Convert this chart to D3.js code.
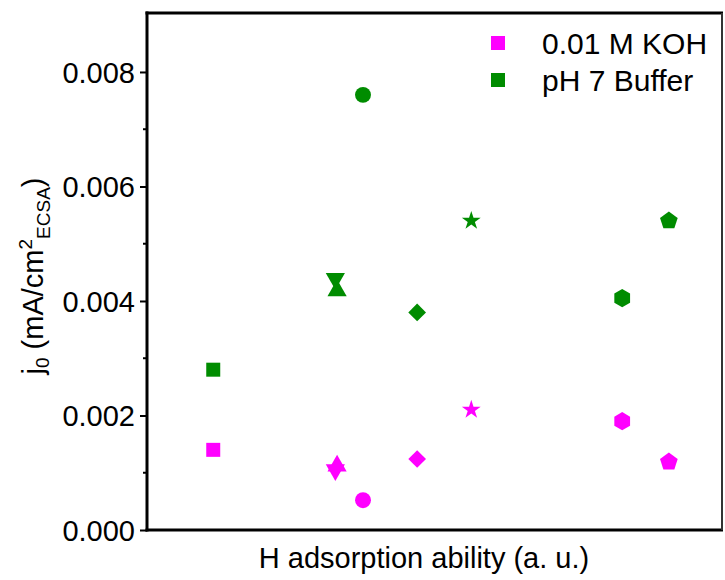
<!DOCTYPE html>
<html>
<head>
<meta charset="utf-8">
<script src="https://cdn.jsdelivr.net/npm/d3@7"></script>
<style>
  body { margin: 0; background: #fff; }
  text { font-family: "Liberation Sans", Arial, sans-serif; fill: #000; }
</style>
</head>
<body>
<script>
// marker shapes, one per catalyst, in order along the x axis
var shapes = ["square", "triangleUp", "triangleDown", "circle", "diamond", "star", "hexagon", "pentagon"];
// H adsorption ability (a. u.)
var xVals = [1.15, 3.30, 3.27, 3.75, 4.69, 5.63, 8.25, 9.06];
var kohVals = [0.0014, 0.00112, 0.00105, 0.00052, 0.00124, 0.0021, 0.0019, 0.00119];
var bufVals = [0.0028, 0.00418, 0.00439, 0.0076, 0.0038, 0.0054, 0.00405, 0.0054];
var seriesNames = ["0.01 M KOH", "pH 7 Buffer"];
var seriesColors = ["#ff00ff", "#008c00"];
var yTicks = [0, 0.002, 0.004, 0.006, 0.008];
var yMinor = [0.001, 0.003, 0.005, 0.007];

var w = 725,
    h = 580;

var margin = { top: 13, right: 2, bottom: 50, left: 147 },
    width = w - margin.left - margin.right,
    height = h - margin.top - margin.bottom;

var svg = d3.select("body")
    .append("svg")
    .attr("width", w)
    .attr("height", h)
    .append("g")
    .attr("transform", "translate(" + margin.left + "," + margin.top + ")");

var x = d3.scaleLinear().domain([0, 10]).range([0, width]);
var y = d3.scaleLinear().domain([0, 0.00903]).range([height, 0]);

// custom polygon symbols
function polygon(n, k) {
    return {
        draw: function (ctx, size) {
            var r = Math.sqrt(size / k);
            for (var i = 0; i < n; i++) {
                var a = -Math.PI / 2 + i * 2 * Math.PI / n;
                if (i == 0) ctx.moveTo(r * Math.cos(a), r * Math.sin(a));
                else ctx.lineTo(r * Math.cos(a), r * Math.sin(a));
            }
            ctx.closePath();
        }
    };
}
var hexagon = polygon(6, 3 * Math.sqrt(3) / 2);
var pentagon = polygon(5, 2.5 * Math.sin(2 * Math.PI / 5));

var symbolTypes = {
    square: [d3.symbolSquare, 196, 0],
    triangleUp: [d3.symbolTriangle, 160, 0],
    triangleDown: [d3.symbolTriangle, 160, 180],
    circle: [d3.symbolCircle, 200, 0],
    diamond: [d3.symbolDiamond2, 200, 0],
    star: [d3.symbolStar, 110, 0],
    hexagon: [hexagon, 215, 0],
    pentagon: [pentagon, 205, 0]
};

// y axis
var yAxis = svg.append("g")
    .call(d3.axisLeft(y).tickValues(yTicks).tickFormat(d3.format(".3f")).tickSize(7).tickPadding(5));
yAxis.select(".domain").remove();
yAxis.selectAll("line").attr("stroke", "#000").attr("stroke-width", 2);
yAxis.selectAll("text").style("font-size", "29px").attr("dy", "0.35em");

svg.append("g")
    .selectAll("line")
    .data(yMinor)
    .enter()
    .append("line")
    .attr("x1", -4)
    .attr("x2", 0)
    .attr("y1", function (d) { return y(d); })
    .attr("y2", function (d) { return y(d); })
    .attr("stroke", "#000")
    .attr("stroke-width", 2);

// frame
svg.append("line").attr("x1", 0).attr("x2", 0).attr("y1", -1.5).attr("y2", height + 1.5)
    .attr("stroke", "#000").attr("stroke-width", 3);
svg.append("line").attr("x1", -1.5).attr("x2", width).attr("y1", height).attr("y2", height)
    .attr("stroke", "#000").attr("stroke-width", 3);
svg.append("line").attr("x1", -1.5).attr("x2", width).attr("y1", 0).attr("y2", 0)
    .attr("stroke", "#000").attr("stroke-width", 3);
svg.append("line").attr("x1", width - 1).attr("x2", width - 1).attr("y1", 0).attr("y2", height)
    .attr("stroke", "#333").attr("stroke-width", 2);

// points
var series = [kohVals, bufVals];
series.forEach(function (vals, si) {
    svg.append("g")
        .selectAll("path")
        .data(vals)
        .enter()
        .append("path")
        .attr("d", function (d, i) {
            var s = symbolTypes[shapes[i]];
            return d3.symbol().type(s[0]).size(s[1])();
        })
        .attr("transform", function (d, i) {
            var s = symbolTypes[shapes[i]];
            return "translate(" + x(xVals[i]) + "," + y(d) + ") rotate(" + s[2] + ")";
        })
        .attr("fill", seriesColors[si]);
});

// legend
var legend = svg.append("g")
    .selectAll("g")
    .data(seriesNames)
    .enter()
    .append("g")
    .attr("transform", function (d, i) { return "translate(" + (351) + "," + (30 + i * 37) + ")"; });
legend.append("rect")
    .attr("x", -7).attr("y", -7).attr("width", 14).attr("height", 14)
    .attr("fill", function (d, i) { return seriesColors[i]; });
legend.append("text")
    .attr("x", 44)
    .attr("dy", "0.35em")
    .style("font-size", "30px")
    .text(function (d) { return d; });

// axis titles
svg.append("text")
    .attr("x", width / 2 - 11)
    .attr("y", height + 38)
    .attr("text-anchor", "middle")
    .style("font-size", "29px")
    .text("H adsorption ability (a. u.)");

var yt = svg.append("text")
    .attr("transform", "translate(" + (-104) + "," + (263) + ") rotate(-90)")
    .attr("text-anchor", "middle")
    .style("font-size", "29px");
yt.append("tspan").text("j");
yt.append("tspan").attr("dy", 6).style("font-size", "19px").text("0");
yt.append("tspan").attr("dy", -6).text(" (mA/cm");
yt.append("tspan").attr("dy", -11).style("font-size", "19px").text("2");
yt.append("tspan").attr("dy", 18).style("font-size", "19px").text("ECSA");
yt.append("tspan").attr("dy", -7).text(")");
</script>
</body>
</html>
